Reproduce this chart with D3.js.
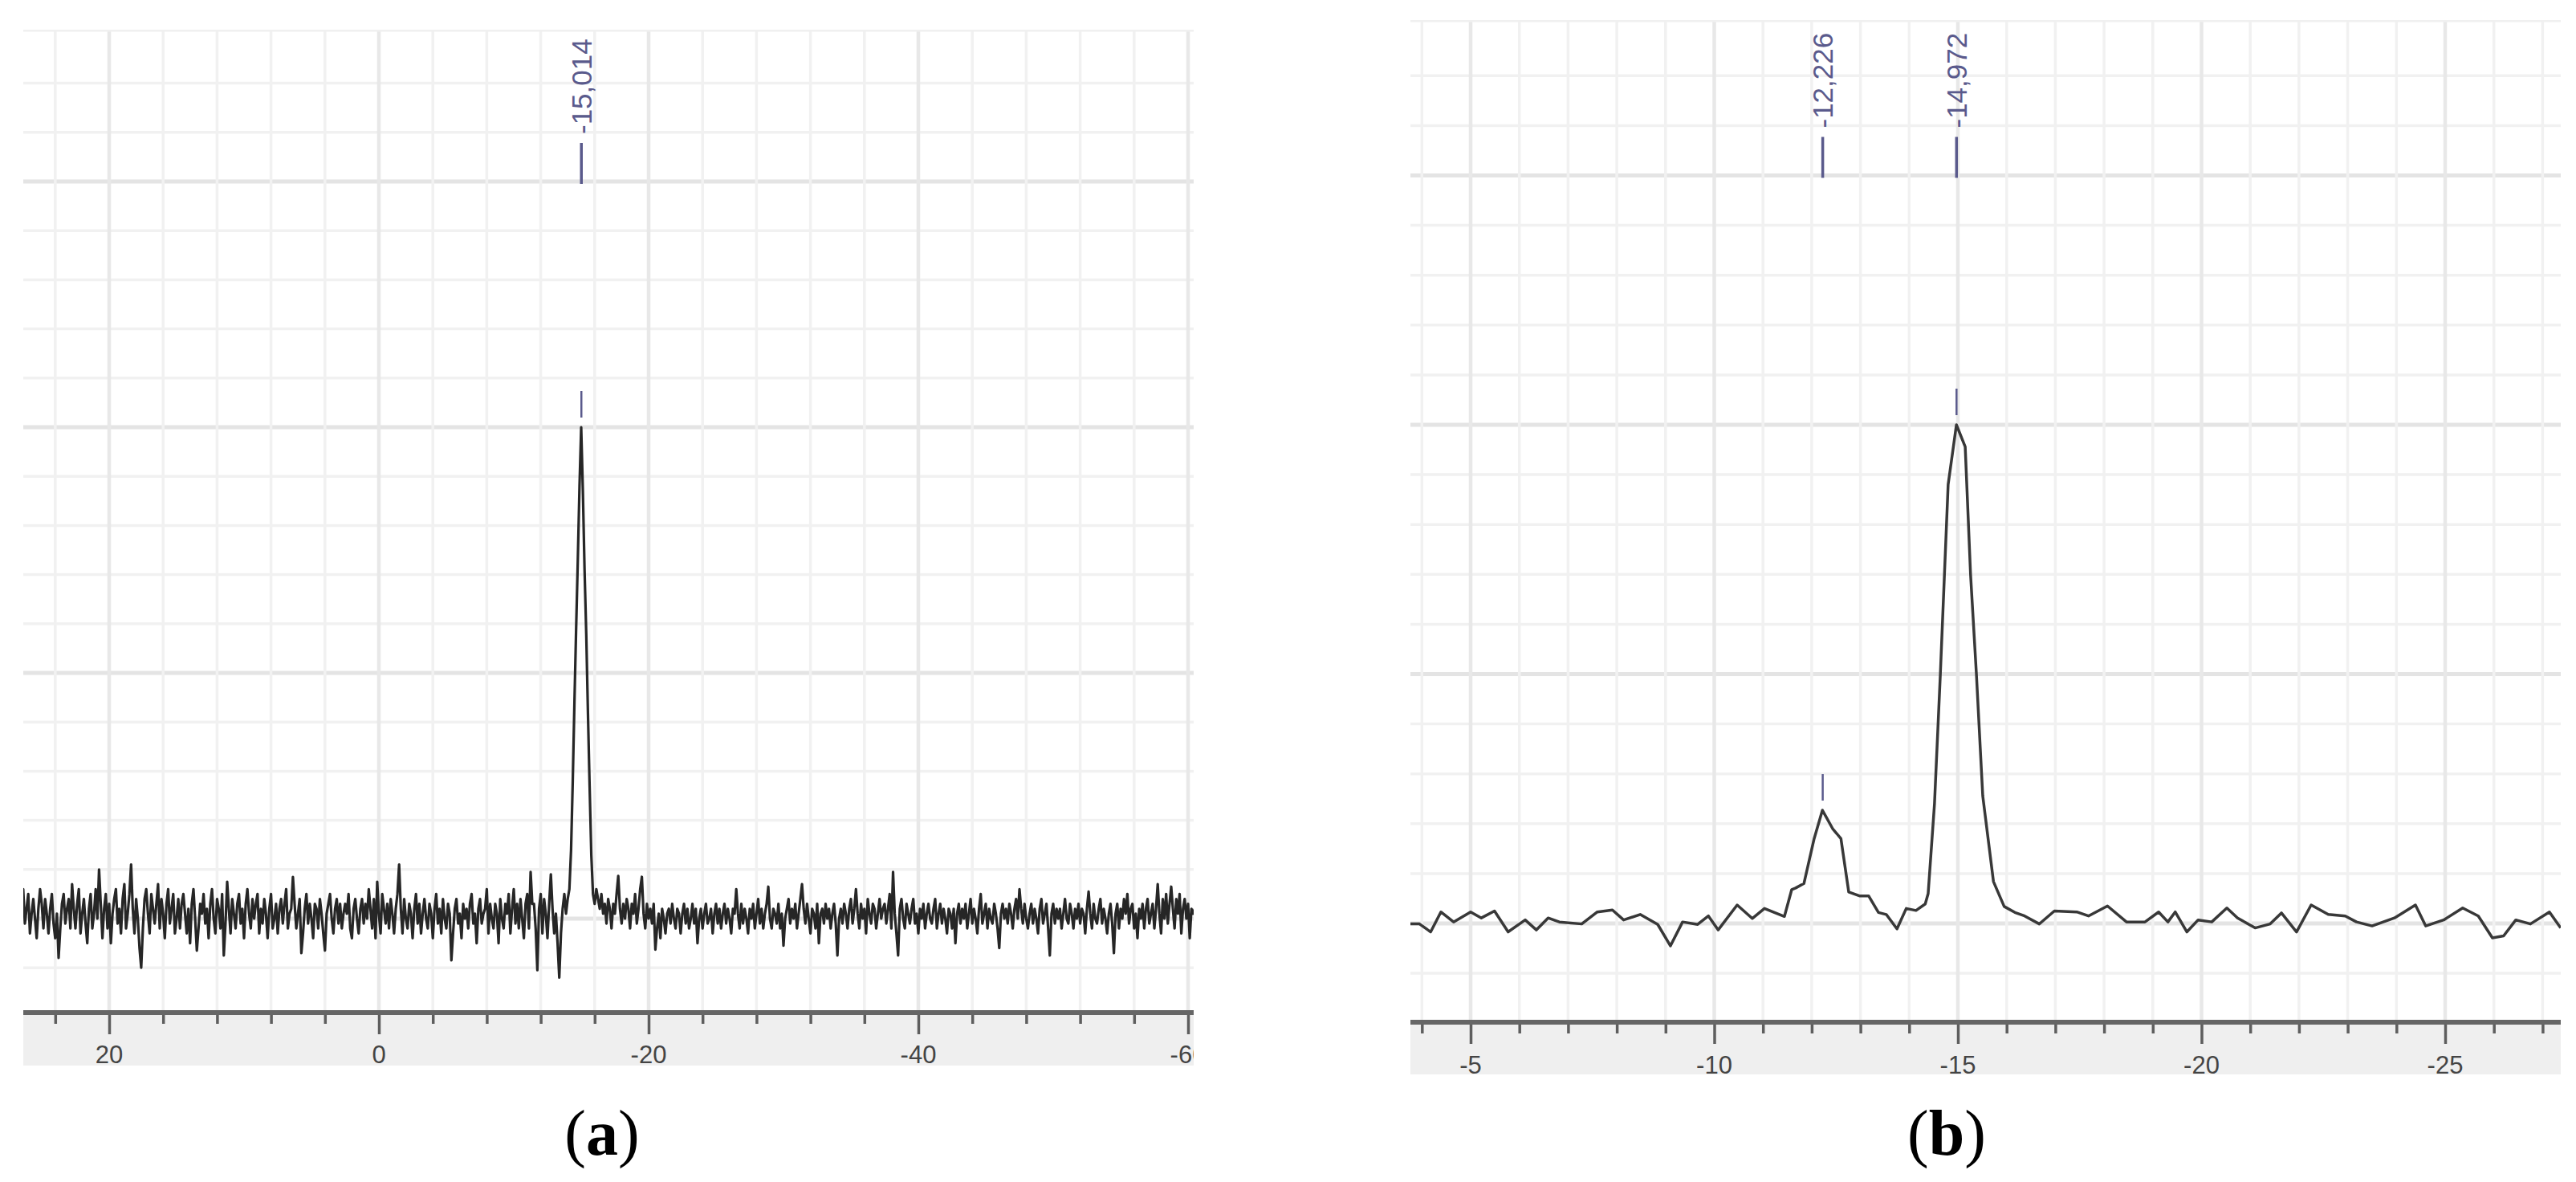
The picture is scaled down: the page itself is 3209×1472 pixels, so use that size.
<!DOCTYPE html>
<html><head><meta charset="utf-8">
<script src="https://cdn.jsdelivr.net/npm/d3@7"></script>
<style>html,body{margin:0;padding:0;background:#fff}svg{display:block}</style>
</head><body>
<svg id="chart" width="3209" height="1472"></svg>
<script>
// ---------- Panel (a) data ----------
const aPpmStart = 26.5;      // first sample (ppm)
const aPpmStep = -0.125;     // sampling step (ppm)
const aIntensity = [
 0.3, 0.6, -0.1, 0.2, 0.5, -0.3, 0.1, 0.4,        // 26.5
 0.0, -0.4, 0.2, 0.6, 0.3, -0.2, 0.4, 0.1,        // 25.5
 -0.3, 0.2, 0.5, -0.1, -0.4, 0.1, -0.8, -0.2,     // 24.5
 0.3, 0.5, -0.1, 0.2, 0.4, -0.2, 0.7, 0.2,        // 23.5
 -0.2, 0.3, 0.6, -0.3, 0.1, 0.4, -0.1, -0.5,      // 22.5
 0.2, 0.5, -0.2, 0.1, 0.6, 0.0, 1.0, 0.3,         // 21.5
 -0.4, 0.2, 0.5, -0.2, 0.3, -0.5, 0.1, 0.4,       // 20.5
 0.6, -0.1, 0.2, -0.3, 0.4, 0.7, -0.2, 0.1,       // 19.5
 0.5, 1.1, 0.2, -0.3, 0.4, 0.0, -0.6, -1.0,       // 18.5
 -0.2, 0.4, 0.6, 0.1, -0.3, 0.5, 0.2, -0.1,       // 17.5
 0.3, 0.7, -0.2, 0.4, 0.1, -0.4, 0.3, 0.6,        // 16.5
 -0.1, 0.2, 0.5, -0.3, 0.0, 0.4, -0.2, 0.3,       // 15.5
 0.5, 0.1, -0.3, 0.2, -0.5, 0.3, 0.6, 0.0,        // 14.5
 -0.65, -0.2, 0.3, 0.1, 0.5, -0.1, 0.2, -0.4,     // 13.5
 0.3, 0.6, 0.0, -0.3, 0.4, 0.2, -0.2, 0.5,        // 12.5
 -0.75, -0.1, 0.75, 0.2, -0.3, 0.4, 0.1, -0.2,    // 11.5
 0.3, 0.5, -0.1, 0.2, -0.4, 0.3, 0.6, 0.1,        // 10.5
 -0.2, 0.4, 0.0, 0.3, 0.5, -0.3, 0.2, -0.1,       // 9.5
 0.4, 0.1, -0.4, 0.2, 0.5, -0.2, 0.0, 0.3,        // 8.5
 -0.3, 0.2, 0.4, -0.1, 0.3, 0.6, -0.2, 0.1,       // 7.5
 0.2, 0.85, 0.3, -0.2, 0.1, 0.4, -0.7, -0.3,      // 6.5
 0.2, 0.5, -0.1, 0.3, 0.0, -0.4, 0.3, 0.2,        // 5.5
 -0.2, 0.4, 0.1, -0.3, -0.65, 0.1, 0.3, 0.5,      // 4.5
 0.0, -0.3, 0.2, 0.4, -0.1, 0.3, -0.2, 0.1,       // 3.5
 0.3, 0.1, 0.5, -0.2, -0.4, 0.2, 0.4, 0.0,        // 2.5
 -0.3, 0.2, 0.4, -0.1, 0.3, 0.0, 0.6, 0.2,        // 1.5
 -0.2, 0.4, -0.4, 0.75, 0.1, -0.3, 0.5, 0.2,      // 0.5
 -0.1, 0.3, -0.2, 0.4, 0.1, -0.3, 0.2, 0.5,       // -0.5
 1.1, 0.2, -0.3, 0.4, 0.0, -0.2, 0.3, 0.1,        // -1.5
 -0.4, 0.2, 0.5, -0.1, 0.3, -0.3, 0.1, 0.4,       // -2.5
 0.0, -0.2, 0.3, 0.1, -0.4, 0.2, 0.5, -0.1,       // -3.5
 0.2, -0.3, 0.4, 0.0, -0.2, 0.3, 0.1, -0.85,      // -4.5
 -0.3, 0.2, 0.4, -0.1, 0.1, -0.4, 0.3, 0.0,       // -5.5
 0.2, -0.2, 0.3, 0.5, -0.1, 0.1, -0.5, 0.2,       // -6.5
 0.4, -0.1, 0.1, 0.2, 0.6, -0.3, 0.3, 0.0,        // -7.5
 -0.2, 0.3, 0.1, -0.5, 0.4, 0.0, -0.2, 0.3,       // -8.5
 0.1, 0.5, -0.3, 0.2, 0.6, -0.1, 0.3, -0.2,       // -9.5
 0.4, 0.0, -0.4, 0.3, 0.5, -0.2, 0.95, 0.3,       // -10.5
 0.3, -0.2, -1.05, 0.2, 0.5, -0.3, 0.4, 0.1,      // -11.5
 -0.4, 0.3, 0.9, 0.2, -0.3, 0.1, -0.5, -1.2,      // -12.5
 -0.3, 0.2, 0.5, 0.1, 0.4, 0.6, 1.4, 2.8,         // -13.5
 4.4, 5.9, 7.3, 8.8, 10.0, 8.7, 7.1, 5.8,         // -14.5
 4.2, 2.7, 1.3, 0.5, 0.3, 0.6, 0.4, 0.2,          // -15.5
 0.5, 0.1, 0.3, -0.1, 0.4, 0.2, -0.2, 0.3,        // -16.5
 0.1, 0.5, 0.87, 0.2, -0.1, 0.3, 0.0, 0.4,        // -17.5
 0.2, -0.2, 0.3, 0.1, 0.5, -0.1, 0.2, 0.6,        // -18.5
 0.85, 0.1, -0.2, 0.3, 0.0, 0.2, -0.1, 0.3,       // -19.5
 -0.63, -0.2, 0.1, -0.4, 0.2, 0.0, -0.3, 0.1,     // -20.5
 0.2, -0.1, 0.3, 0.0, -0.2, 0.2, 0.1, -0.3,       // -21.5
 0.1, 0.3, -0.1, 0.2, -0.2, 0.0, 0.3, -0.1,       // -22.5
 0.2, -0.5, 0.0, 0.2, -0.2, 0.1, 0.3, -0.1,       // -23.5
 0.0, 0.2, -0.3, 0.1, 0.3, -0.1, 0.2, -0.2,       // -24.5
 0.1, 0.3, -0.1, 0.2, 0.0, -0.3, 0.2, 0.1,        // -25.5
 0.6, 0.1, -0.2, 0.3, -0.1, 0.2, 0.0, -0.3,       // -26.5
 0.2, 0.0, 0.3, -0.2, 0.1, 0.4, -0.1, 0.2,        // -27.5
 -0.2, 0.1, 0.3, 0.65, 0.0, -0.2, 0.2, 0.1,       // -28.5
 -0.1, 0.3, -0.2, 0.1, -0.55, 0.0, 0.2, 0.4,      // -29.5
 -0.1, 0.2, 0.0, 0.3, -0.2, 0.1, 0.4, 0.7,        // -30.5
 0.2, -0.1, 0.3, 0.0, -0.3, 0.2, 0.1, -0.2,       // -31.5
 0.3, -0.5, 0.1, 0.2, -0.1, 0.3, 0.0, 0.2,        // -32.5
 -0.2, 0.1, 0.3, -0.1, -0.75, 0.0, 0.2, -0.1,     // -33.5
 0.3, 0.1, -0.2, 0.2, 0.4, -0.1, 0.2, 0.6,        // -34.5
 0.1, -0.2, 0.3, 0.0, 0.2, -0.3, 0.4, 0.1,        // -35.5
 -0.1, 0.3, 0.2, -0.2, 0.1, 0.4, 0.0, 0.2,        // -36.5
 0.3, -0.1, 0.2, 0.5, -0.2, 0.95, 0.1, -0.3,      // -37.5
 -0.75, 0.2, 0.4, 0.0, -0.2, 0.3, 0.1, -0.1,      // -38.5
 0.2, 0.4, -0.1, 0.1, -0.3, 0.2, 0.0, 0.3,        // -39.5
 -0.2, 0.1, 0.3, 0.0, -0.1, 0.2, 0.4, -0.2,       // -40.5
 0.1, 0.3, -0.1, 0.2, 0.0, -0.3, 0.2, 0.1,        // -41.5
 -0.2, 0.2, -0.5, 0.1, 0.3, -0.1, 0.2, 0.0,       // -42.5
 0.3, -0.2, 0.1, 0.4, -0.1, 0.2, 0.0, -0.3,       // -43.5
 0.2, 0.5, -0.1, 0.1, 0.3, -0.2, 0.2, 0.0,        // -44.5
 -0.1, 0.3, 0.1, -0.2, -0.6, 0.1, 0.3, 0.0,       // -45.5
 0.2, -0.1, 0.3, 0.1, -0.2, 0.2, 0.4, 0.0,        // -46.5
 0.6, 0.2, -0.1, 0.3, 0.0, -0.2, 0.1, 0.3,        // -47.5
 -0.1, 0.2, 0.0, -0.3, 0.2, 0.4, -0.1, 0.1,       // -48.5
 0.3, -0.2, -0.75, 0.1, 0.3, -0.1, 0.2, 0.0,      // -49.5
 0.2, -0.2, 0.1, 0.4, 0.0, -0.1, 0.3, 0.1,        // -50.5
 -0.2, 0.2, 0.0, 0.3, -0.1, 0.2, 0.1, -0.3,       // -51.5
 0.2, 0.55, 0.1, -0.2, 0.3, 0.0, -0.1, 0.2,       // -52.5
 0.4, -0.1, 0.2, 0.0, -0.3, 0.1, 0.3, -0.1,       // -53.5
 -0.7, 0.1, 0.3, -0.2, 0.2, 0.0, 0.4, 0.1,        // -54.5
 0.5, -0.1, 0.2, 0.3, -0.2, 0.1, -0.4, 0.2,       // -55.5
 0.0, 0.3, -0.2, 0.2, 0.4, -0.1, 0.1, 0.3,        // -56.5
 -0.2, 0.2, 0.7, 0.1, -0.3, 0.4, 0.0, 0.5,        // -57.5
 -0.1, 0.3, 0.65, 0.2, -0.2, 0.4, 0.1, 0.5,       // -58.5
 -0.3, 0.2, 0.4, 0.0, 0.3, -0.4, 0.2, 0.1,        // -59.5
 0.2                                              // -60.5
];
const aPeakPpm = [-15.014];
const aPeakTop = [10.0];
const aPeakLabels = ["-15,014"];
const aMajorTicks = [20, 0, -20, -40, -60];
const aTickLabels = ["20", "0", "-20", "-40", "-60"];

// ---------- Panel (b) data ----------
const bPpm = [
 -3.76, -3.95, -4.18, -4.39, -4.65, -5.0, -5.22, -5.49, -5.77, -6.12,
 -6.35, -6.59, -6.82, -7.28, -7.6, -7.91, -8.14, -8.48, -8.84, -9.1,
 -9.35, -9.66, -9.88, -10.08, -10.47, -10.78, -11.03, -11.44, -11.59, -11.67,
 -11.84, -12.05, -12.22, -12.43, -12.6, -12.76, -12.99, -13.17, -13.37, -13.53,
 -13.75, -13.94, -14.14, -14.33, -14.39, -14.52, -14.64, -14.8, -14.97, -15.15,
 -15.26, -15.38, -15.51, -15.73, -15.95, -16.17, -16.37, -16.67, -16.98, -17.44,
 -17.68, -18.07, -18.46, -18.84, -19.12, -19.31, -19.46, -19.7, -19.93, -20.21,
 -20.52, -20.74, -21.1, -21.41, -21.64, -21.95, -22.25, -22.6, -22.95, -23.18,
 -23.5, -23.96, -24.39, -24.6, -24.97, -25.36, -25.68, -25.97, -26.2, -26.45,
 -26.75, -27.14, -27.37
];
const bIntensity = [
 -0.01, -0.01, -0.17, 0.23, 0.03, 0.23, 0.11, 0.25, -0.17, 0.07,
 -0.13, 0.11, 0.03, -0.01, 0.23, 0.27, 0.07, 0.18, -0.02, -0.45,
 0.03, -0.02, 0.15, -0.13, 0.37, 0.1, 0.3, 0.14, 0.68, 0.71,
 0.8, 1.7, 2.27, 1.9, 1.7, 0.63, 0.55, 0.55, 0.22, 0.18,
 -0.11, 0.3, 0.26, 0.39, 0.6, 2.4, 5.0, 8.8, 10.0, 9.56,
 7.0, 5.0, 2.56, 0.84, 0.34, 0.22, 0.15, -0.01, 0.25, 0.23,
 0.15, 0.35, 0.03, 0.03, 0.23, 0.03, 0.23, -0.17, 0.07, 0.03,
 0.31, 0.11, -0.09, -0.01, 0.21, -0.17, 0.37, 0.18, 0.15, 0.03,
 -0.05, 0.11, 0.37, -0.05, 0.07, 0.31, 0.15, -0.29, -0.25, 0.07,
 -0.01, 0.23, -0.09
];
const bPeakPpm = [-12.226, -14.972];
const bPeakTop = [2.27, 10.0];
const bPeakLabels = ["-12,226", "-14,972"];
const bMajorTicks = [-5, -10, -15, -20, -25];
const bTickLabels = ["-5", "-10", "-15", "-20", "-25"];

// ---------- drawing ----------
const svg = d3.select("#chart");
svg.append("rect").attr("width", 3209).attr("height", 1472).attr("fill", "#fff");

function drawPanel(cfg) {
  const g = svg.append("g");
  const clipId = "clip" + cfg.id;
  svg.append("defs").append("clipPath").attr("id", clipId)
    .append("rect").attr("x", cfg.left).attr("y", cfg.top)
    .attr("width", cfg.right - cfg.left).attr("height", cfg.bandBottom - cfg.top);
  const pg = g.append("g").attr("clip-path", `url(#${clipId})`);

  const x = d3.scaleLinear().domain(cfg.xDomain).range(cfg.xRange);
  const y = d3.scaleLinear().domain([0, 10]).range(cfg.yRange);

  // grid
  const xMin = x.invert(cfg.right), xMax = x.invert(cfg.left);
  const minorX = d3.range(Math.ceil(xMin / cfg.minorStep) * cfg.minorStep, xMax + 1e-9, cfg.minorStep);
  const isMajor = v => Math.abs(v / cfg.majorStep - Math.round(v / cfg.majorStep)) < 1e-6;
  const yLines = d3.range(-1, 18, 1);

  pg.append("g").selectAll("line").data(yLines).join("line")
    .attr("x1", cfg.left).attr("x2", cfg.right)
    .attr("y1", d => y(d)).attr("y2", d => y(d))
    .attr("stroke", d => d % 5 === 0 ? "#e4e4e4" : "#f1f1f1")
    .attr("stroke-width", d => d % 5 === 0 ? 5 : 3.5);
  pg.append("g").selectAll("line").data(minorX).join("line")
    .attr("x1", d => x(d)).attr("x2", d => x(d))
    .attr("y1", cfg.top).attr("y2", cfg.axisY)
    .attr("stroke", d => isMajor(d) ? "#e8e8e8" : "#f1f1f1")
    .attr("stroke-width", d => isMajor(d) ? 4.5 : 3.5);
  pg.append("line").attr("x1", cfg.left).attr("x2", cfg.right)
    .attr("y1", cfg.top + 1).attr("y2", cfg.top + 1)
    .attr("stroke", "#f0f0f0").attr("stroke-width", 3);

  // axis band
  pg.append("rect").attr("x", cfg.left).attr("y", cfg.axisY)
    .attr("width", cfg.right - cfg.left).attr("height", cfg.bandBottom - cfg.axisY)
    .attr("fill", "#efefef");

  // spectrum
  const line = d3.line().x(d => x(d[0])).y(d => y(d[1]));
  pg.append("path").datum(cfg.data).attr("d", line)
    .attr("fill", "none").attr("stroke", cfg.lineColor)
    .attr("stroke-width", cfg.lineWidth).attr("stroke-linejoin", "round");

  // axis line + ticks (d3 axis)
  const axis = d3.axisBottom(x).tickValues(minorX).tickSize(0).tickFormat("");
  const ax = pg.append("g").attr("transform", `translate(0,${cfg.axisY})`).call(axis);
  ax.select(".domain").remove();
  ax.selectAll(".tick line")
    .attr("y2", d => isMajor(d) ? 27 : 14)
    .attr("stroke", "#5e5e5e").attr("stroke-width", 3.5);
  pg.append("line").attr("x1", cfg.left).attr("x2", cfg.right)
    .attr("y1", cfg.axisY).attr("y2", cfg.axisY)
    .attr("stroke", "#666").attr("stroke-width", 6);
  pg.append("g").selectAll("text").data(cfg.majorTicks).join("text")
    .attr("x", d => x(d)).attr("y", cfg.labelY)
    .attr("text-anchor", "middle").attr("dominant-baseline", "central")
    .attr("font-family", "Liberation Sans, Arial, sans-serif").attr("font-size", 31)
    .attr("fill", "#444")
    .text((d, i) => cfg.tickLabels[i]);

  // peak markers and labels
  const pc = "#5a5a8c";
  cfg.peaks.forEach(p => {
    const px = x(p.ppm);
    const yl = y(15);
    pg.append("line").attr("x1", px).attr("x2", px)
      .attr("y1", yl - 48).attr("y2", yl + 3)
      .attr("stroke", pc).attr("stroke-width", 3.5);
    pg.append("text")
      .attr("transform", `translate(${px},${yl - 59}) rotate(-90)`)
      .attr("dy", "0.36em")
      .attr("font-family", "Liberation Sans, Arial, sans-serif").attr("font-size", 35)
      .attr("fill", pc).text(p.label);
    const yt = y(p.top);
    pg.append("line").attr("x1", px).attr("x2", px)
      .attr("y1", yt - 45).attr("y2", yt - 12)
      .attr("stroke", pc).attr("stroke-width", 2.5);
  });

  // caption
  const cap = svg.append("text").attr("x", cfg.capX).attr("y", 1438)
    .attr("text-anchor", "middle")
    .attr("font-family", "Liberation Serif, 'Times New Roman', serif")
    .attr("font-size", 80).attr("fill", "#000");
  cap.append("tspan").text("(");
  cap.append("tspan").attr("font-weight", "bold").text(cfg.capLetter);
  cap.append("tspan").text(")");
}

drawPanel({
  id: "a", left: 29, right: 1487, top: 37, axisY: 1261, bandBottom: 1327, labelY: 1313,
  xDomain: [20, -60], xRange: [136, 1480], yRange: [1144, 532],
  minorStep: 4, majorStep: 20,
  data: aIntensity.map((v, i) => [aPpmStart + i * aPpmStep, v]),
  lineColor: "#262626", lineWidth: 3.2,
  majorTicks: aMajorTicks, tickLabels: aTickLabels,
  peaks: aPeakPpm.map((p, i) => ({ppm: p, top: aPeakTop[i], label: aPeakLabels[i]})),
  capX: 750, capLetter: "a"
});
drawPanel({
  id: "b", left: 1757, right: 3190, top: 25, axisY: 1273, bandBottom: 1338, labelY: 1326,
  xDomain: [-5, -25], xRange: [1832, 3046], yRange: [1150, 529],
  minorStep: 1, majorStep: 5,
  data: bPpm.map((p, i) => [p, bIntensity[i]]),
  lineColor: "#383838", lineWidth: 3.5,
  majorTicks: bMajorTicks, tickLabels: bTickLabels,
  peaks: bPeakPpm.map((p, i) => ({ppm: p, top: bPeakTop[i], label: bPeakLabels[i]})),
  capX: 2425, capLetter: "b"
});
</script>
</body></html>
